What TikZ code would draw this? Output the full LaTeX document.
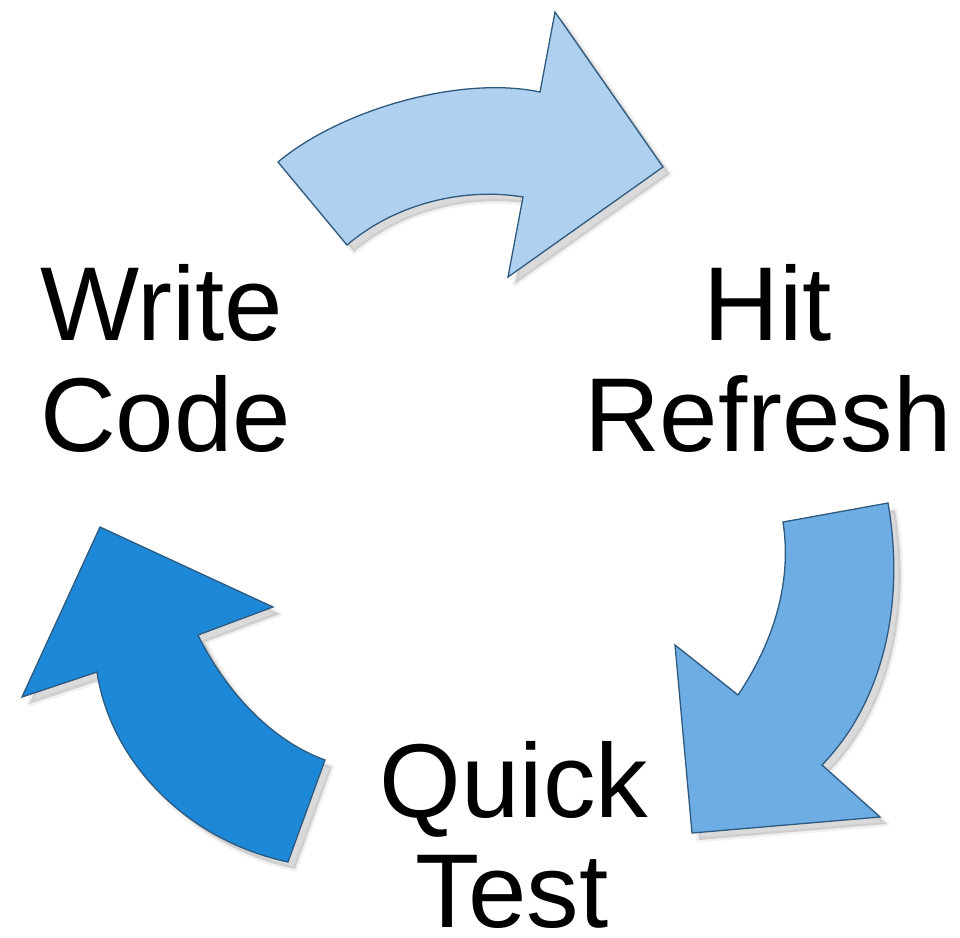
\documentclass[tikz,border=0pt]{standalone}
\usepackage{fontspec}
\setmainfont{Liberation Sans}
\definecolor{edgeblue}{HTML}{2E5A80}
\definecolor{filltop}{HTML}{AFD0EE}
\definecolor{fillright}{HTML}{6DADE3}
\definecolor{fillleft}{HTML}{1E88D8}
\newcommand{\ArrTop}{(278,162) .. controls (340,110) and (460,75) .. (540,92) -- (555,12) -- (663,167) -- (508,277) -- (523,197) .. controls (470,188) and (400,200) .. (347,245) -- cycle}
\newcommand{\ArrRight}{(783,522) -- (888,503) .. controls (905,600) and (885,700) .. (822,765) -- (880,817) -- (692,833) -- (675,645) -- (738,695) .. controls (775,640) and (792,580) .. (783,522) -- cycle}
\newcommand{\ArrLeft}{(288,862) -- (325,760) .. controls (270,740) and (225,690) .. (198,635) -- (273,607) -- (100,527) -- (22,697) -- (97,672) .. controls (110,760) and (185,840) .. (288,862) -- cycle}
\tikzset{
  arrowbody/.style={draw=edgeblue, line width=1.3pt, line join=miter},
  shadowsoft/.style={fill=black, draw=black, fill opacity=0.07, draw opacity=0.05, line width=5pt, line join=round},
  shadowcore/.style={fill=black, fill opacity=0.08},
  lbl/.style={inner sep=0pt, outer sep=0pt, font=\fontsize{105}{111}\selectfont},
}
\begin{document}
\begin{tikzpicture}[x=1pt, y=-1pt]
\useasboundingbox (0,0) rectangle (960,937);
% shadows
\begin{scope}[shift={(7,7)}]
  \path[shadowsoft] \ArrTop;
  \path[shadowcore] \ArrTop;
  \path[shadowsoft] \ArrRight;
  \path[shadowcore] \ArrRight;
  \path[shadowsoft] \ArrLeft;
  \path[shadowcore] \ArrLeft;
\end{scope}
% arrows
\path[arrowbody, fill=filltop] \ArrTop;
\path[arrowbody, fill=fillright] \ArrRight;
\path[arrowbody, fill=fillleft] \ArrLeft;
% labels
\node[lbl, anchor=base west] (write) at (40,340) {Write};
\node[lbl, anchor=base west] (code) at (40,451) {Code};
\node[lbl, anchor=base] (hit) at (768,340) {Hit};
\node[lbl, anchor=base] (refresh) at (768,451) {Refresh};
\node[lbl, anchor=base] (quick) at (514,817) {Quick};
\node[lbl, anchor=base] (test) at (512,927) {Test};
\end{tikzpicture}
\end{document}
